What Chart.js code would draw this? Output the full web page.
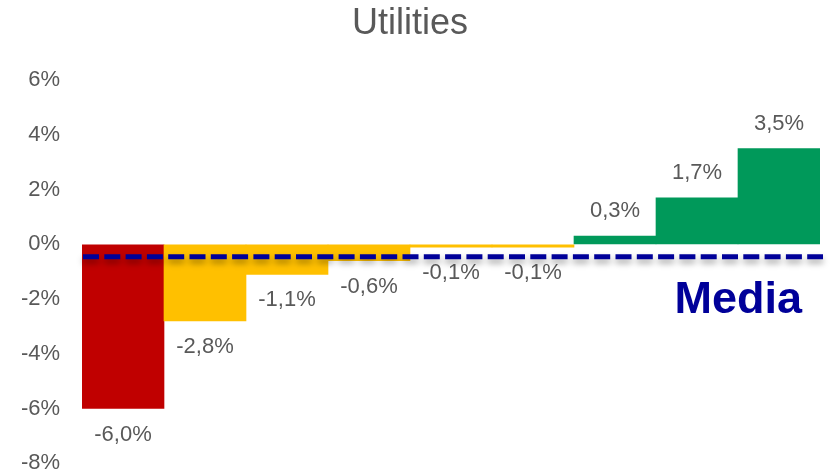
<!DOCTYPE html>
<html>
<head>
<meta charset="utf-8">
<script src="https://cdn.jsdelivr.net/npm/chart.js@4.4.1/dist/chart.umd.min.js"></script>
<style>
  html, body { margin: 0; padding: 0; background: #fff; }
  #wrap { width: 831px; height: 472px; }
</style>
</head>
<body>
<div id="wrap"><canvas id="utilChart" width="831" height="472"></canvas></div>
<script>
const categories = ["A", "B", "C", "D", "E", "F", "G", "H", "I"];
const values = [-6.0, -2.8, -1.1, -0.6, -0.1, -0.1, 0.3, 1.7, 3.5];
const barColors = ["#C00000", "#FFC000", "#FFC000", "#FFC000", "#FFC000", "#FFC000", "#00995A", "#00995A", "#00995A"];
const mediaValue = -0.45;
const mediaLabel = "Media";
const yTicks = [-8, -6, -4, -2, 0, 2, 4, 6];

const grey = "#595959";
const navy = "#000099";

function fmt(v) {
  return v.toFixed(1).replace(".", ",") + "%";
}

// value labels under/over each bar
const barLabels = {
  id: "barLabels",
  afterDatasetsDraw(chart) {
    const ctx = chart.ctx;
    const meta = chart.getDatasetMeta(0);
    ctx.save();
    ctx.font = "22px 'Liberation Sans', Arial, sans-serif";
    ctx.fillStyle = grey;
    ctx.textAlign = "center";
    ctx.textBaseline = "middle";
    meta.data.forEach((bar, i) => {
      const v = values[i];
      const y = v < 0 ? bar.y + 26 : bar.y - 25;
      ctx.fillText(fmt(v), bar.x, y);
    });
    ctx.restore();
  }
};

// dashed "Media" line
const mediaLine = {
  id: "mediaLine",
  afterDatasetsDraw(chart) {
    const ctx = chart.ctx;
    const area = chart.chartArea;
    const y = chart.scales.y.getPixelForValue(mediaValue);
    ctx.save();
    ctx.shadowColor = "rgba(0,0,0,0.35)";
    ctx.shadowBlur = 6;
    ctx.shadowOffsetY = 4;
    ctx.strokeStyle = navy;
    ctx.lineWidth = 5;
    ctx.setLineDash([16, 5.3]);
    ctx.beginPath();
    ctx.moveTo(area.left + 1, y);
    ctx.lineTo(area.right + 3, y);
    ctx.stroke();
    ctx.restore();

    ctx.save();
    ctx.font = "bold 45px 'Liberation Sans', Arial, sans-serif";
    ctx.fillStyle = navy;
    ctx.textAlign = "right";
    ctx.textBaseline = "alphabetic";
    ctx.fillText(mediaLabel, area.right - 18, y + 56);
    ctx.restore();
  }
};

new Chart(document.getElementById("utilChart"), {
  type: "bar",
  data: {
    labels: categories,
    datasets: [{
      data: values,
      backgroundColor: barColors,
      borderWidth: 0,
      barPercentage: 1,
      categoryPercentage: 1
    }]
  },
  options: {
    responsive: false,
    animation: false,
    layout: { padding: { left: 0, right: 11, top: 0, bottom: 0 } },
    plugins: {
      legend: { display: false },
      tooltip: { enabled: false },
      title: {
        display: true,
        text: "Utilities",
        color: grey,
        font: { family: "'Liberation Sans', Arial, sans-serif", size: 36, weight: "normal", lineHeight: 1.2 },
        padding: { top: 2, bottom: 35 }
      }
    },
    scales: {
      x: { display: false },
      y: {
        min: yTicks[0],
        max: yTicks[yTicks.length - 1],
        afterFit(scale) { scale.width = 82; },
        afterBuildTicks(scale) { scale.ticks = yTicks.map(v => ({ value: v })); },
        grid: { display: true, color: "rgba(0,0,0,0)", drawOnChartArea: false, drawTicks: true, tickLength: 22 },
        border: { display: false },
        ticks: {
          padding: 0,
          color: grey,
          font: { family: "'Liberation Sans', Arial, sans-serif", size: 22, lineHeight: 0.8 },
          callback: v => v + "%"
        }
      }
    }
  },
  plugins: [barLabels, mediaLine]
});
</script>
</body>
</html>
